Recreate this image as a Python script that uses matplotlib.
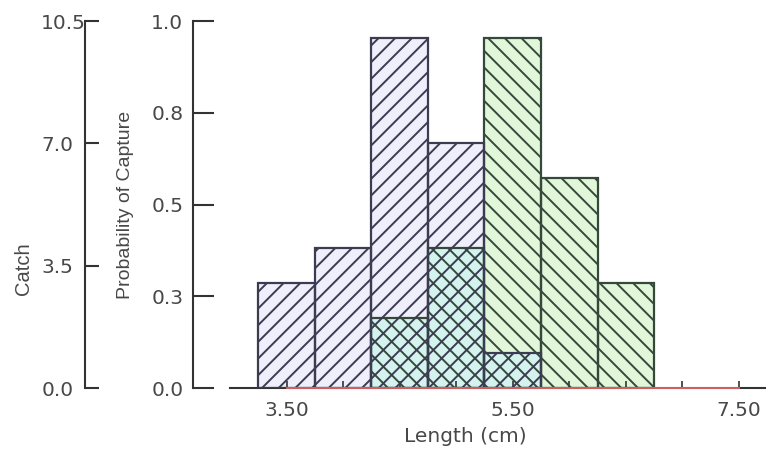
import matplotlib

matplotlib.use("Agg")
import matplotlib.pyplot as plt


# Length classes (bin centres, cm) and catch per class for the two samples
LENGTH_BINS = [3.5, 4.0, 4.5, 5.0, 5.5, 6.0, 6.5]
CATCH_SMALL = [3, 4, 10, 7, 1, 0, 0]
CATCH_LARGE = [0, 0, 2, 4, 10, 6, 3]
BIN_WIDTH = 0.5

# Fitted capture probability curve (flat at zero over the range)
CURVE_LENGTH = [3.5, 4.0, 4.5, 5.0, 5.5, 6.0, 6.5, 7.0, 7.5]
CURVE_PROB = [0.0, 0.0, 0.0, 0.0, 0.0, 0.0, 0.0, 0.0, 0.0]

CATCH_TICKS = [0.0, 3.5, 7.0, 10.5]
CATCH_MAX = 10.5
PROB_TICKS = [0.0, 0.25, 0.5, 0.75, 1.0]
PROB_LABELS = ["0.0", "0.3", "0.5", "0.8", "1.0"]
LENGTH_TICKS = [3.5, 5.5, 7.5]
LENGTH_LABELS = ["3.50", "5.50", "7.50"]
LENGTH_MINOR = [4.0, 4.5, 5.0, 6.0, 6.5, 7.0]

W, H = 766, 450
AXIS_COLOR = "#333333"
TEXT_COLOR = "#484848"
SMALL_FILL = "#efeefb"
LARGE_FILL = "#e2f7da"
BOTH_FILL = "#d4f3ee"

plt.rcParams.update({
    "font.family": "DejaVu Sans",
    "font.size": 14,
    "hatch.linewidth": 1.4,
})

fig = plt.figure(figsize=(W / 100, H / 100), dpi=100)
ax = fig.add_axes([230 / W, 62 / H, 536 / W, 367 / H])
ax.set_xlim(3.0, 7.74)
ax.set_ylim(0, CATCH_MAX)


def nonzero(values):
    xs = [x for x, v in zip(LENGTH_BINS, values) if v > 0]
    vs = [v for v in values if v > 0]
    return xs, vs


small_x, small_h = nonzero(CATCH_SMALL)
large_x, large_h = nonzero(CATCH_LARGE)
both_x, both_h = nonzero([min(a, b) for a, b in zip(CATCH_SMALL, CATCH_LARGE)])

# fills first, the shared part of the two histograms gets its own tint
ax.bar(large_x, large_h, width=BIN_WIDTH, color=LARGE_FILL, linewidth=0, zorder=1)
ax.bar(small_x, small_h, width=BIN_WIDTH, color=SMALL_FILL, linewidth=0, zorder=1)
ax.bar(both_x, both_h, width=BIN_WIDTH, color=BOTH_FILL, linewidth=0, zorder=1.5)

# hatching and outlines on top
ax.bar(large_x, large_h, width=BIN_WIDTH, facecolor="none",
       edgecolor="#34493a", linewidth=1.6, hatch="\\\\", zorder=2)
ax.bar(small_x, small_h, width=BIN_WIDTH, facecolor="none",
       edgecolor="#3b3b52", linewidth=1.6, hatch="//", zorder=3)

ax.plot(CURVE_LENGTH, [p * CATCH_MAX for p in CURVE_PROB],
        color="#e06464", linewidth=1.3, zorder=5, clip_on=False)

for side in ("top", "right"):
    ax.spines[side].set_visible(False)
ax.spines["bottom"].set_color(AXIS_COLOR)
ax.spines["bottom"].set_linewidth(1.5)
ax.spines["left"].set_color(AXIS_COLOR)
ax.spines["left"].set_linewidth(1.5)
ax.spines["left"].set_position(("axes", -145 / 536))

# Catch axis
ax.set_yticks(CATCH_TICKS)
ax.set_yticklabels([f"{v:.1f}" for v in CATCH_TICKS])
ax.tick_params(axis="y", direction="in", length=10, width=1.5,
               color=AXIS_COLOR, labelcolor=TEXT_COLOR, pad=31.5,
               labelsize=14.5)
ax.set_ylabel("Catch", family="Liberation Sans", fontsize=14.5, color=TEXT_COLOR)
ax.yaxis.set_label_coords(23 / W, (H - 269) / H, transform=fig.transFigure)
ax.yaxis.label.set_va("center")

# Length axis
ax.set_xticks(LENGTH_TICKS)
ax.set_xticklabels(LENGTH_LABELS)
ax.set_xticks(LENGTH_MINOR, minor=True)
ax.tick_params(axis="x", which="both", direction="in", length=5, width=1.2,
               color=AXIS_COLOR, labelcolor=TEXT_COLOR, pad=9, labelsize=14.5)
ax.set_xlabel("Length (cm)", fontsize=14.5, color=TEXT_COLOR)
ax.xaxis.set_label_coords(465 / W, (H - 437) / H, transform=fig.transFigure)
ax.xaxis.label.set_va("center")

# Probability axis
sec = ax.secondary_yaxis(-37 / 536, functions=(lambda c: c / CATCH_MAX,
                                                lambda p: p * CATCH_MAX))
sec.set_yticks(PROB_TICKS)
sec.set_yticklabels(PROB_LABELS)
sec.spines["left"].set_color(AXIS_COLOR)
sec.spines["left"].set_linewidth(1.5)
sec.tick_params(axis="y", direction="in", length=15, width=1.5,
                color=AXIS_COLOR, labelcolor=TEXT_COLOR, pad=7, labelsize=14.5)
sec.set_ylabel("Probability of Capture", family="Liberation Sans",
               fontsize=14, color=TEXT_COLOR)
sec.yaxis.set_label_coords(126 / W, (H - 205) / H, transform=fig.transFigure)
sec.yaxis.label.set_va("center")

fig.canvas.draw()
for tick in ax.yaxis.get_major_ticks():
    tick.label1.set_horizontalalignment("left")

fig.savefig("out.png", dpi=100)
plt.close(fig)
